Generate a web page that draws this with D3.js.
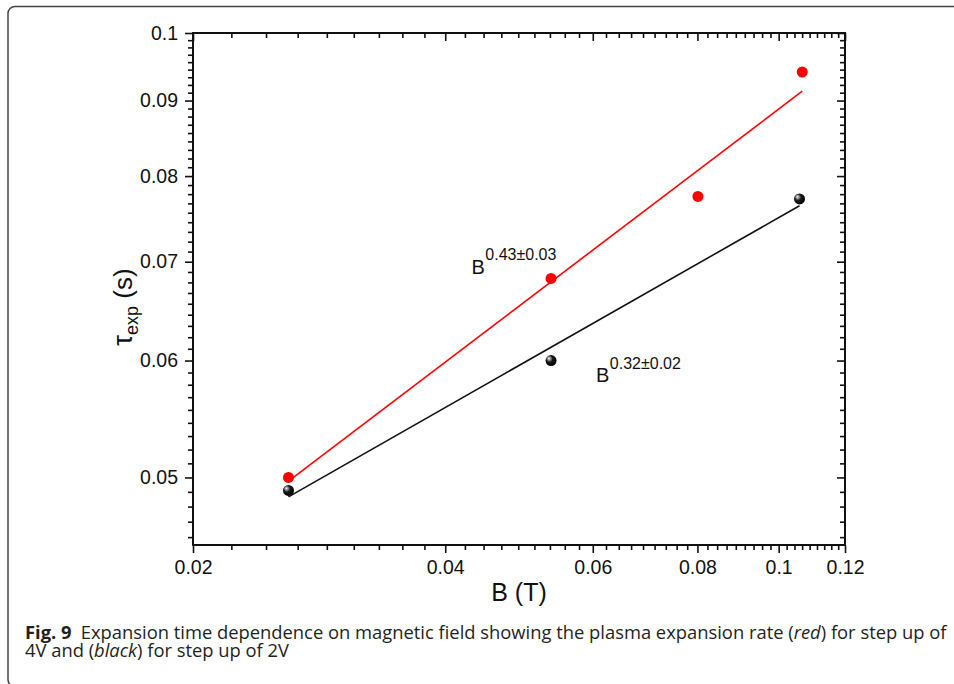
<!DOCTYPE html>
<html>
<head>
<meta charset="utf-8">
<script src="https://cdn.jsdelivr.net/npm/d3@7"></script>
<style>
  body { margin: 0; background: #fff; }
  svg { display: block; }
  .tick text { font-family: "Liberation Sans", Arial, sans-serif; font-size: 19.5px; fill: #111; }
  .tick line { stroke: #111; stroke-width: 1.6; }
</style>
</head>
<body>
<script>
// --- data ---
const fieldRed = [0.026, 0.0535, 0.0801, 0.1067];
const tauRed = [0.0500, 0.0682, 0.0775, 0.0941];
const fieldBlack = [0.026, 0.0535, 0.1059];
const tauBlack = [0.0490, 0.0600, 0.0772];

const xTicks = [0.02, 0.04, 0.06, 0.08, 0.1, 0.12];
const xTickLabels = ["0.02", "0.04", "0.06", "0.08", "0.1", "0.12"];
const yTicks = [0.05, 0.06, 0.07, 0.08, 0.09, 0.1];
const yTickLabels = ["0.05", "0.06", "0.07", "0.08", "0.09", "0.1"];

const redLabel = "0.43\u00B10.03";
const blackLabel = "0.32\u00B10.02";

const width = 954, height = 684;
const plot = { left: 193, right: 845, top: 33, bottom: 545 };

const svg = d3.select("body").append("svg")
  .attr("width", width)
  .attr("height", height);

// outer frame (rounded corners)
svg.append("rect")
  .attr("x", 8).attr("y", 6.5)
  .attr("width", 1000).attr("height", 680)
  .attr("rx", 7)
  .attr("fill", "none")
  .attr("stroke", "#444")
  .attr("stroke-width", 1.5);

// Scales
const x = d3.scaleLog().domain([0.02, 0.12]).range([plot.left, plot.right]);
const y = d3.scaleLog().domain([0.045, 0.1]).range([plot.bottom, plot.top]);

// minor ticks, 8 between each pair of majors
function minors(majors, lo, hi) {
  const out = [];
  const step = majors[1] - majors[0];
  for (let v = majors[0] - step; v < majors[majors.length - 1]; v += step) {
    for (let k = 1; k < 9; k++) {
      const m = v + k * step / 9;
      if (m > lo && m < hi) out.push(m);
    }
  }
  return out;
}
const xMinor = minors(xTicks, 0.02, 0.12);
const yMinor = minors(yTicks, 0.045, 0.1);

const fmtX = d => xTickLabels[xTicks.indexOf(d)];
const fmtY = d => yTickLabels[yTicks.indexOf(d)];

// bottom axis (ticks out)
svg.append("g")
  .attr("transform", `translate(0,${plot.bottom})`)
  .call(d3.axisBottom(x).tickValues(xMinor).tickSize(5).tickFormat(""))
  .call(g => g.select(".domain").remove());
svg.append("g")
  .attr("transform", `translate(0,${plot.bottom})`)
  .call(d3.axisBottom(x).tickValues(xTicks).tickSize(8).tickPadding(7).tickFormat(fmtX))
  .call(g => g.select(".domain").remove());

// top axis (ticks pointing down into plot)
svg.append("g")
  .attr("transform", `translate(0,${plot.top})`)
  .call(d3.axisBottom(x).tickValues(xMinor).tickSize(5).tickFormat(""))
  .call(g => g.select(".domain").remove());
svg.append("g")
  .attr("transform", `translate(0,${plot.top})`)
  .call(d3.axisBottom(x).tickValues(xTicks).tickSize(8).tickFormat(""))
  .call(g => g.select(".domain").remove());

// left axis (ticks out)
svg.append("g")
  .attr("transform", `translate(${plot.left},0)`)
  .call(d3.axisLeft(y).tickValues(yMinor).tickSize(5).tickFormat(""))
  .call(g => g.select(".domain").remove());
svg.append("g")
  .attr("transform", `translate(${plot.left},0)`)
  .call(d3.axisLeft(y).tickValues(yTicks).tickSize(8).tickPadding(7).tickFormat(fmtY))
  .call(g => g.select(".domain").remove());

// right axis (ticks pointing left into plot)
svg.append("g")
  .attr("transform", `translate(${plot.right},0)`)
  .call(d3.axisLeft(y).tickValues(yMinor).tickSize(5).tickFormat(""))
  .call(g => g.select(".domain").remove());
svg.append("g")
  .attr("transform", `translate(${plot.right},0)`)
  .call(d3.axisLeft(y).tickValues(yTicks).tickSize(8).tickFormat(""))
  .call(g => g.select(".domain").remove());

// plot frame
svg.append("rect")
  .attr("x", plot.left).attr("y", plot.top)
  .attr("width", plot.right - plot.left)
  .attr("height", plot.bottom - plot.top)
  .attr("fill", "none")
  .attr("stroke", "#111")
  .attr("stroke-width", 2);

// axis titles
svg.append("text")
  .attr("x", 519).attr("y", 601)
  .attr("text-anchor", "middle")
  .style("font-family", "'Liberation Sans', Arial, sans-serif")
  .style("font-size", "25px")
  .attr("fill", "#111")
  .text("B (T)");

const yTitle = svg.append("text")
  .attr("transform", "translate(132,307) rotate(-90)")
  .attr("text-anchor", "middle")
  .style("font-family", "'Liberation Sans', Arial, sans-serif")
  .attr("fill", "#111");
yTitle.append("tspan").style("font-size", "27px").text("\u03C4");
yTitle.append("tspan").style("font-size", "18px").attr("dy", 6).text("exp");
yTitle.append("tspan").style("font-size", "26px").attr("dy", -6).text(" (s)");

// power-law fit in log space
function powerFit(xs, ys) {
  const lx = xs.map(Math.log), ly = ys.map(Math.log);
  const mx = d3.mean(lx), my = d3.mean(ly);
  const b = d3.sum(lx, (v, i) => (v - mx) * (ly[i] - my)) / d3.sum(lx, v => (v - mx) ** 2);
  const a = my - b * mx;
  const ends = d3.extent(xs);
  return ends.map(v => [v, Math.exp(a + b * Math.log(v))]);
}

const line = d3.line().x(d => x(d[0])).y(d => y(d[1]));

svg.append("path")
  .attr("d", line(powerFit(fieldRed, tauRed)))
  .attr("fill", "none")
  .attr("stroke", "#ff0000")
  .attr("stroke-width", 1.6);

svg.append("path")
  .attr("d", line(powerFit(fieldBlack, tauBlack)))
  .attr("fill", "none")
  .attr("stroke", "#111")
  .attr("stroke-width", 1.6);

// sphere gradient for black markers
const grad = svg.append("defs").append("radialGradient")
  .attr("id", "ball")
  .attr("cx", "40%").attr("cy", "40%").attr("r", "60%")
  .attr("fx", "30%").attr("fy", "30%");
grad.append("stop").attr("offset", "0%").attr("stop-color", "#ffffff");
grad.append("stop").attr("offset", "20%").attr("stop-color", "#a0a0a0");
grad.append("stop").attr("offset", "50%").attr("stop-color", "#1a1a1a");
grad.append("stop").attr("offset", "100%").attr("stop-color", "#000");

svg.selectAll(".pt-red")
  .data(fieldRed.map((v, i) => [v, tauRed[i]]))
  .enter().append("circle")
  .attr("class", "pt-red")
  .attr("cx", d => x(d[0]))
  .attr("cy", d => y(d[1]))
  .attr("r", 5.5)
  .attr("fill", "#ff0000");

svg.selectAll(".pt-black")
  .data(fieldBlack.map((v, i) => [v, tauBlack[i]]))
  .enter().append("circle")
  .attr("class", "pt-black")
  .attr("cx", d => x(d[0]))
  .attr("cy", d => y(d[1]))
  .attr("r", 5.5)
  .attr("fill", "url(#ball)");

// exponent annotations
function annot(px, py, sup) {
  const t = svg.append("text")
    .attr("x", px).attr("y", py)
    .style("font-family", "'Liberation Sans', Arial, sans-serif")
    .attr("fill", "#111");
  t.append("tspan").style("font-size", "20px").text("B");
  t.append("tspan").style("font-size", "16px").attr("dx", 0.5).attr("dy", -13.5).text(sup);
}
annot(471.5, 273.5, redLabel);
annot(596, 382, blackLabel);

// caption, font size chosen so the first line fills its width
const capFont = "'Open Sans', 'Noto Sans', sans-serif";
function captionLine(yy, parts) {
  const t = svg.append("text")
    .attr("x", 25).attr("y", yy)
    .style("font-family", capFont)
    .style("font-size", "15px")
    .attr("fill", "#231f20");
  parts.forEach(p => {
    const s = t.append("tspan").text(p[0]);
    if (p[1] === "b") s.style("font-weight", "bold");
    if (p[1] === "i") s.style("font-style", "italic");
  });
  return t;
}
const cap1 = captionLine(639, [
  ["Fig. 9", "b"],
  ["\u2002Expansion time dependence on magnetic field showing the plasma expansion rate (", ""],
  ["red", "i"],
  [") for step up of", ""]
]);
const cap2 = captionLine(657, [
  ["4V and (", ""],
  ["black", "i"],
  [") for step up of 2V", ""]
]);
const fs = 15 * 922 / cap1.node().getComputedTextLength();
cap1.style("font-size", fs + "px");
cap2.style("font-size", fs + "px");
</script>
</body>
</html>
